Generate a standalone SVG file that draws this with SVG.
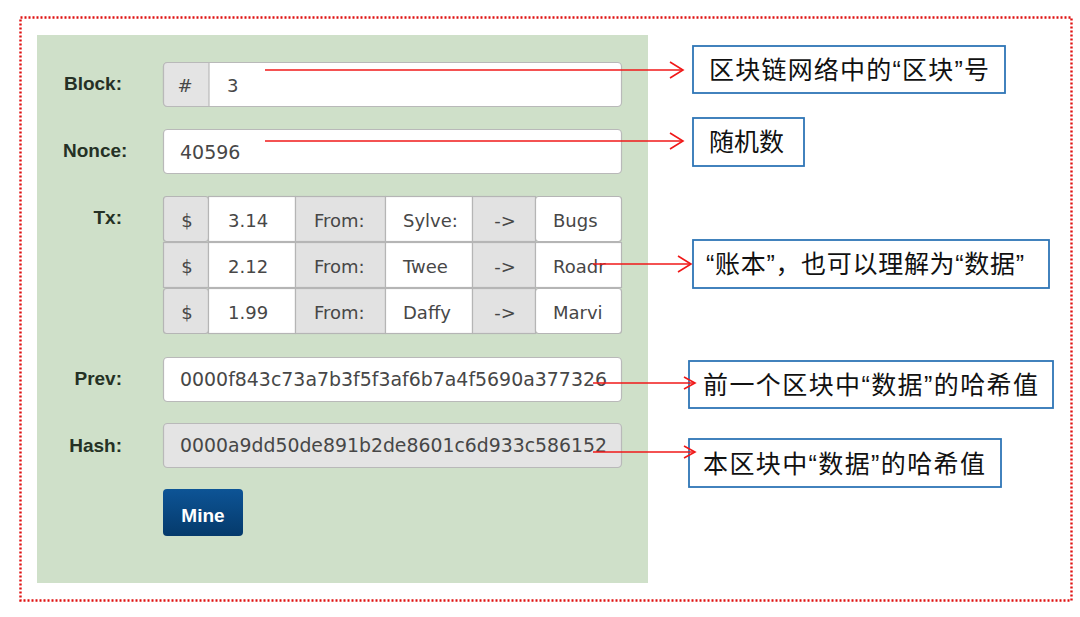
<svg xmlns="http://www.w3.org/2000/svg" width="1080" height="617" viewBox="0 0 1080 617">
<defs>
<linearGradient id="btn" x1="0" y1="0" x2="0" y2="1">
<stop offset="0" stop-color="#0d5496"/>
<stop offset="1" stop-color="#053a6b"/>
</linearGradient>
<marker id="ah" markerUnits="userSpaceOnUse" markerWidth="18" markerHeight="20" refX="14" refY="9" orient="auto" viewBox="0 0 18 20">
<path d="M1,1 L14,9 L1,17" fill="none" stroke="#f01818" stroke-width="1.6"/>
</marker>
<marker id="ahs" markerUnits="userSpaceOnUse" markerWidth="16" markerHeight="16" refX="12" refY="7" orient="auto" viewBox="0 0 16 16">
<path d="M1,1 L12,7 L1,13" fill="none" stroke="#f01818" stroke-width="1.6"/>
</marker>
</defs>
<style>
.lbl{font-family:"Liberation Sans",Arial,sans-serif;font-weight:bold;font-size:19px;fill:#253125}
.val{font-family:"DejaVu Sans",Verdana,sans-serif;font-size:18px;fill:#474747}
.inp{fill:#ffffff;stroke:#b9b9b9;stroke-width:1.2}
.add{fill:#e4e4e4;stroke:#b9b9b9;stroke-width:1.2}
.cell{fill:#ffffff;stroke:#b5b5b5;stroke-width:1.2}
.gcell{fill:#e2e2e2;stroke:#b5b5b5;stroke-width:1.2}
.note{fill:#ffffff;stroke:#2e75b6;stroke-width:1.8}
.nt{font-family:"Liberation Sans","Noto Sans CJK SC",sans-serif;font-size:25px;fill:#111}
.con{stroke:#f01818;stroke-width:1.6;fill:none}
</style>
<rect width="1080" height="617" fill="#ffffff"/>
<rect id="frame" x="20.5" y="17.5" width="1051" height="583" fill="none" stroke="#e01010" stroke-width="2.4" stroke-dasharray="2 2"/>
<g id="panel">
<rect x="37" y="35" width="611" height="548" fill="#cfe0c9"/>
</g>
<g id="block">
<text class="lbl" x="122" y="90" text-anchor="end">Block:</text>
<rect class="inp" x="163.5" y="62.5" width="458" height="44" rx="4"/>
<path class="add" d="M209,62.5 H167.5 a4,4 0 0 0 -4,4 V102.5 a4,4 0 0 0 4,4 H209 Z"/>
<text class="val" x="185" y="92" text-anchor="middle">#</text>
<text class="val" x="227" y="92">3</text>
</g>
<g id="nonce">
<text class="lbl" x="63" y="157">Nonce:</text>
<rect class="inp" x="163.5" y="129.5" width="458" height="44" rx="4"/>
<text class="val" x="180" y="159" style="font-size:19px">40596</text>
</g>
<g id="tx">
<text class="lbl" x="122" y="224" text-anchor="end">Tx:</text>
<g id="tx1">
<rect class="gcell" x="163.5" y="196.5" width="45" height="45" rx="3"/>
<rect class="cell" x="208.5" y="196.5" width="87" height="45"/>
<rect class="gcell" x="295.5" y="196.5" width="90" height="45"/>
<rect class="cell" x="385.5" y="196.5" width="87" height="45"/>
<rect class="gcell" x="472.5" y="196.5" width="63" height="45"/>
<rect class="cell" x="535.5" y="196.5" width="86" height="45" rx="3"/>
<text class="val" x="187" y="227" text-anchor="middle">$</text>
<text class="val" x="228" y="227">3.14</text>
<text class="val" x="314" y="227">From:</text>
<text class="val" x="403" y="227">Sylve:</text>
<text class="val" x="505" y="227" text-anchor="middle">-&gt;</text>
<text class="val" x="553" y="227">Bugs</text>
</g>
<g id="tx2">
<rect class="gcell" x="163.5" y="242.5" width="45" height="45"/>
<rect class="cell" x="208.5" y="242.5" width="87" height="45"/>
<rect class="gcell" x="295.5" y="242.5" width="90" height="45"/>
<rect class="cell" x="385.5" y="242.5" width="87" height="45"/>
<rect class="gcell" x="472.5" y="242.5" width="63" height="45"/>
<rect class="cell" x="535.5" y="242.5" width="86" height="45"/>
<text class="val" x="187" y="273" text-anchor="middle">$</text>
<text class="val" x="228" y="273">2.12</text>
<text class="val" x="314" y="273">From:</text>
<text class="val" x="403" y="273">Twee</text>
<text class="val" x="505" y="273" text-anchor="middle">-&gt;</text>
<text class="val" x="553" y="273">Roadr</text>
</g>
<g id="tx3">
<rect class="gcell" x="163.5" y="288.5" width="45" height="45" rx="3"/>
<rect class="cell" x="208.5" y="288.5" width="87" height="45"/>
<rect class="gcell" x="295.5" y="288.5" width="90" height="45"/>
<rect class="cell" x="385.5" y="288.5" width="87" height="45"/>
<rect class="gcell" x="472.5" y="288.5" width="63" height="45"/>
<rect class="cell" x="535.5" y="288.5" width="86" height="45" rx="3"/>
<text class="val" x="187" y="319" text-anchor="middle">$</text>
<text class="val" x="228" y="319">1.99</text>
<text class="val" x="314" y="319">From:</text>
<text class="val" x="403" y="319">Daffy</text>
<text class="val" x="505" y="319" text-anchor="middle">-&gt;</text>
<text class="val" x="553" y="319">Marvi</text>
</g>
</g>
<g id="prev">
<text class="lbl" x="122" y="385" text-anchor="end">Prev:</text>
<rect class="inp" x="163.5" y="357.5" width="458" height="44" rx="4"/>
<text class="val" x="180" y="386" textLength="427" lengthAdjust="spacingAndGlyphs" style="font-size:19px">0000f843c73a7b3f5f3af6b7a4f5690a377326</text>
</g>
<g id="hash">
<text class="lbl" x="122" y="452" text-anchor="end">Hash:</text>
<rect class="add" x="163.5" y="423.5" width="458" height="44" rx="4"/>
<text class="val" x="180" y="452" textLength="427" lengthAdjust="spacingAndGlyphs" style="font-size:19px">0000a9dd50de891b2de8601c6d933c586152</text>
</g>
<g id="mine">
<rect x="163" y="489" width="80" height="47" rx="4" fill="url(#btn)"/>
<text x="203" y="522" text-anchor="middle" style="font-family:'Liberation Sans',Arial,sans-serif;font-weight:bold;font-size:19px;fill:#ffffff">Mine</text>
</g>
<g id="note1">
<rect class="note" x="693" y="46" width="312" height="47"/>
<text class="nt" x="709" y="79" textLength="280">区块链网络中的“区块”号</text>
</g>
<g id="note2">
<rect class="note" x="693" y="118" width="111" height="48"/>
<text class="nt" x="709" y="151">随机数</text>
</g>
<g id="note3">
<rect class="note" x="693" y="240" width="356" height="48"/>
<text class="nt" x="706" y="273" textLength="318">“账本”，也可以理解为“数据”</text>
</g>
<g id="note4">
<rect class="note" x="689" y="361" width="364" height="47"/>
<text class="nt" x="703" y="394" textLength="335">前一个区块中“数据”的哈希值</text>
</g>
<g id="note5">
<rect class="note" x="689" y="439" width="312" height="48"/>
<text class="nt" x="703" y="473" textLength="282">本区块中“数据”的哈希值</text>
</g>
<g id="connectors">
<line class="con" x1="265" y1="70" x2="683" y2="70" marker-end="url(#ah)"/>
<line class="con" x1="265" y1="141" x2="683" y2="141" marker-end="url(#ah)"/>
<line class="con" x1="593" y1="264" x2="691" y2="264" marker-end="url(#ah)"/>
<line class="con" x1="593" y1="383" x2="695" y2="383" marker-end="url(#ahs)"/>
<line class="con" x1="593" y1="452" x2="695" y2="452" marker-end="url(#ahs)"/>
</g>
</svg>
